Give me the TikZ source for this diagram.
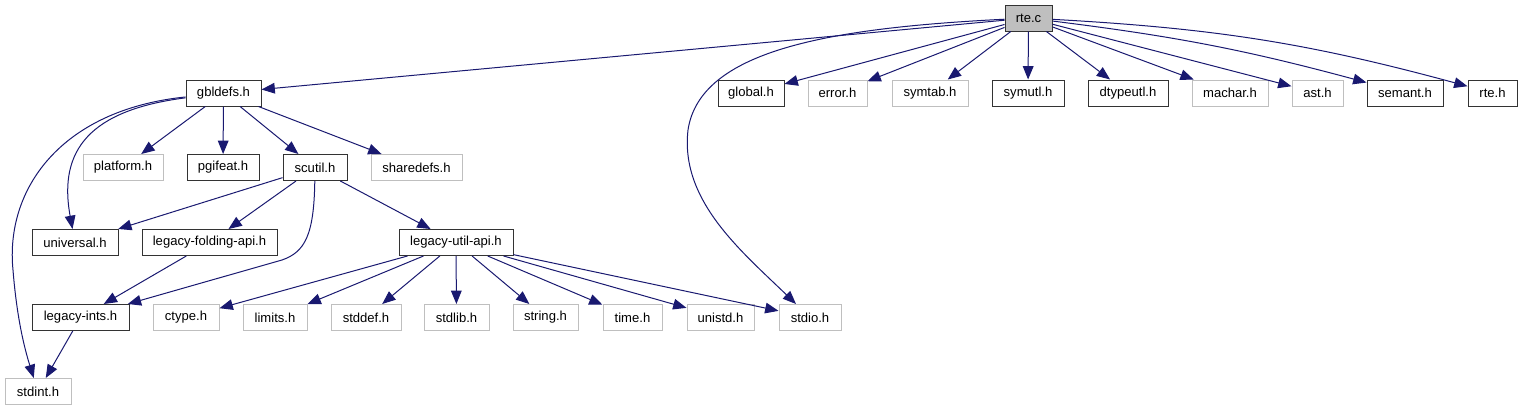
\documentclass[tikz,border=0pt]{standalone}
\usepackage{fontspec}
\setmainfont{Liberation Sans}
\usepackage{tikz}
\usetikzlibrary{arrows.meta}
\definecolor{edgeblue}{HTML}{191970}
\definecolor{greyline}{HTML}{BFBFBF}

\begin{document}
\begin{tikzpicture}[x=0.75pt, y=-0.75pt,
  every node/.style={font=\fontsize{9.8}{12}\selectfont},
  hdr/.style={draw=black!80, line width=0.75pt, inner sep=0pt, minimum height=19.5pt, minimum width=#1*0.75pt},
  ext/.style={hdr=#1, draw=greyline},
  src/.style={hdr=#1, fill=greyline},
  dep/.style={draw=edgeblue, line width=0.75pt, -{Triangle[length=10pt,width=8pt]}}]
  \useasboundingbox (0,0) rectangle (1522,411);
  % root file
  \node[src=47] (rtec) at (1028.5,18) {rte.c};
  % first row
  \node[hdr=75] (gbldefs) at (223.5,93) {gbldefs.h};
  \node[hdr=66] (globalh) at (751,93) {global.h};
  \node[ext=59] (errorh) at (837.5,93) {error.h};
  \node[ext=76] (symtab) at (930,93) {symtab.h};
  \node[hdr=72] (symutl) at (1028,93) {symutl.h};
  \node[hdr=80] (dtypeutl) at (1128,93) {dtypeutl.h};
  \node[ext=76] (machar) at (1230,93) {machar.h};
  \node[ext=51] (ast) at (1317.5,93) {ast.h};
  \node[hdr=76] (semant) at (1405,93) {semant.h};
  \node[hdr=49] (rteh) at (1492.5,93) {rte.h};
  % second row
  \node[ext=80] (platform) at (123,167.5) {platform.h};
  \node[hdr=72] (pgifeat) at (223,167.5) {pgifeat.h};
  \node[hdr=64] (scutil) at (315,167.5) {scutil.h};
  \node[ext=91] (sharedefs) at (416.5,167.5) {sharedefs.h};
  % third row
  \node[hdr=86] (universal) at (75,242.5) {universal.h};
  \node[hdr=135] (folding) at (209.5,242.5) {legacy-folding-api.h};
  \node[hdr=114] (utilapi) at (456,242.5) {legacy-util-api.h};
  % fourth row
  \node[hdr=97] (ints) at (80.5,317.5) {legacy-ints.h};
  \node[ext=66] (ctype) at (186,317.5) {ctype.h};
  \node[ext=64] (limits) at (275,317.5) {limits.h};
  \node[ext=70] (stddef) at (366,317.5) {stddef.h};
  \node[ext=65] (stdlib) at (456.5,317.5) {stdlib.h};
  \node[ext=65] (string) at (545.5,317.5) {string.h};
  \node[ext=59] (time) at (632.5,317.5) {time.h};
  \node[ext=67] (unistd) at (720.5,317.5) {unistd.h};
  \node[ext=62] (stdio) at (810,317.5) {stdio.h};
  \node[ext=66] (stdint) at (38,391.5) {stdint.h};
  % rte.c includes
  \draw[dep] (rtec) -- (gbldefs);
  \draw[dep] (rtec) -- (globalh);
  \draw[dep] (rtec) -- (errorh);
  \draw[dep] (rtec) -- (symtab);
  \draw[dep] (rtec) -- (symutl);
  \draw[dep] (rtec) -- (dtypeutl);
  \draw[dep] (rtec) -- (machar);
  \draw[dep] (rtec) -- (ast);
  \draw[dep] (rtec) to[bend left=4] (semant);
  \draw[dep] (rtec) to[bend left=6] (rteh);
  \draw[dep] (rtec) .. controls (830,28) and (700,50) .. (688,130)
    .. controls (680,200) and (740,250) .. (stdio);
  % gbldefs.h includes
  \draw[dep] (gbldefs) -- (platform);
  \draw[dep] (gbldefs) -- (pgifeat);
  \draw[dep] (gbldefs) -- (scutil);
  \draw[dep] (gbldefs) -- (sharedefs);
  \draw[dep] (gbldefs) .. controls (90,110) and (58,150) .. (universal);
  \draw[dep] (gbldefs) .. controls (60,110) and (5,190) .. (13,270)
    .. controls (17,320) and (25,350) .. (stdint);
  % scutil.h includes
  \draw[dep] (scutil) -- (universal);
  \draw[dep] (scutil) -- (folding);
  \draw[dep] (scutil) -- (utilapi);
  \draw[dep] (scutil) .. controls (314,235) and (305,252) .. (282,260) -- (ints);
  \draw[dep] (folding) -- (ints);
  \draw[dep] (ints) -- (stdint);
  % legacy-util-api.h includes
  \foreach \n in {ctype,limits,stddef,stdlib,string,time,unistd,stdio}
    \draw[dep] (utilapi) -- (\n);
\end{tikzpicture}
\end{document}
